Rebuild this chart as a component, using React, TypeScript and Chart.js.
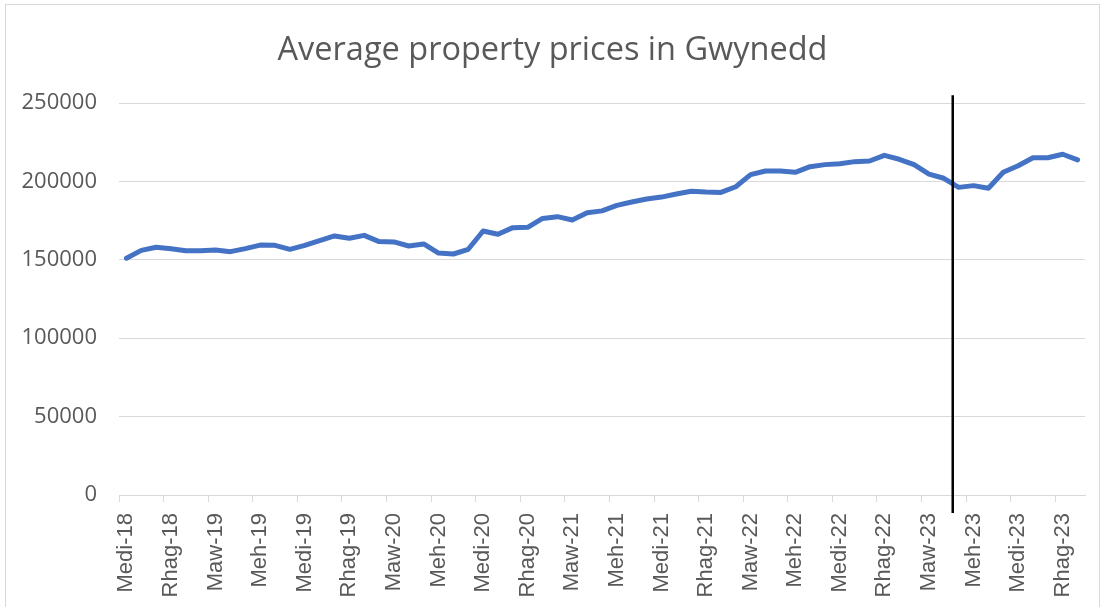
import React, { useEffect, useRef } from 'react';
import { Chart, registerables } from 'chart.js';

Chart.register(...registerables);

const TITLE = 'Average property prices in Gwynedd';

const MONTHS: string[] = [
  'Medi-18', 'Hyd-18', 'Tach-18', 'Rhag-18',
  'Ion-19', 'Chwef-19', 'Maw-19', 'Ebr-19', 'Mai-19', 'Meh-19', 'Gorff-19', 'Awst-19', 'Medi-19', 'Hyd-19', 'Tach-19', 'Rhag-19',
  'Ion-20', 'Chwef-20', 'Maw-20', 'Ebr-20', 'Mai-20', 'Meh-20', 'Gorff-20', 'Awst-20', 'Medi-20', 'Hyd-20', 'Tach-20', 'Rhag-20',
  'Ion-21', 'Chwef-21', 'Maw-21', 'Ebr-21', 'Mai-21', 'Meh-21', 'Gorff-21', 'Awst-21', 'Medi-21', 'Hyd-21', 'Tach-21', 'Rhag-21',
  'Ion-22', 'Chwef-22', 'Maw-22', 'Ebr-22', 'Mai-22', 'Meh-22', 'Gorff-22', 'Awst-22', 'Medi-22', 'Hyd-22', 'Tach-22', 'Rhag-22',
  'Ion-23', 'Chwef-23', 'Maw-23', 'Ebr-23', 'Mai-23', 'Meh-23', 'Gorff-23', 'Awst-23', 'Medi-23', 'Hyd-23', 'Tach-23', 'Rhag-23',
  'Ion-24',
];

const PRICES: number[] = [
  151000, 156000, 158000, 157000, 155800, 155800, 156200, 155200, 157100, 159400,
  159200, 156700, 159200, 162200, 165200, 163700, 165600, 161600, 161400, 158800,
  160100, 154300, 153700, 156700, 168400, 166300, 170500, 170700, 176400, 177500,
  175400, 180000, 181200, 184700, 186900, 188800, 190000, 192000, 193700, 193200,
  193000, 196600, 204300, 206600, 206600, 205800, 209400, 210700, 211200, 212600,
  213000, 216600, 214100, 210700, 204700, 202000, 196200, 197300, 195600, 205800,
  210000, 215100, 215100, 217300, 213700,
];

const Y_MIN = 0;
const Y_MAX = 250000;
const Y_STEP = 50000;

// vertical marker (category position and vertical extent in data units)
const MARKER_INDEX = 55.6;
const MARKER_TOP = 255000;
const MARKER_BOTTOM = -11500;

const markerPlugin = {
  id: 'marker',
  afterDatasetsDraw(chart: any) {
    const x = chart.scales.x.getPixelForValue(MARKER_INDEX);
    const y1 = chart.scales.y.getPixelForValue(MARKER_TOP);
    const y2 = chart.scales.y.getPixelForValue(MARKER_BOTTOM);
    const ctx = chart.ctx;
    ctx.save();
    ctx.strokeStyle = '#000000';
    ctx.lineWidth = 2.5;
    ctx.beginPath();
    ctx.moveTo(x, y1);
    ctx.lineTo(x, y2);
    ctx.stroke();
    ctx.restore();
  },
};

export default function App() {
  const ref = useRef<HTMLCanvasElement | null>(null);

  useEffect(() => {
    if (!ref.current) return;
    const chart = new Chart(ref.current, {
      type: 'line',
      data: {
        labels: MONTHS,
        datasets: [
          {
            label: 'Average price',
            data: PRICES,
            borderColor: '#4472C4',
            backgroundColor: '#4472C4',
            borderWidth: 5,
            pointRadius: 0,
            pointHoverRadius: 0,
            tension: 0,
            borderCapStyle: 'round',
            borderJoinStyle: 'round',
          },
        ],
      },
      options: {
        responsive: false,
        animation: false,
        devicePixelRatio: 1,
        layout: { padding: { left: 20, right: 19, top: 0, bottom: 0 } },
        plugins: {
          legend: { display: false },
          tooltip: { enabled: false },
          title: {
            display: true,
            text: TITLE,
            color: '#595959',
            font: { family: '"Open Sans"', size: 32.5, weight: 'normal', lineHeight: 1.2 },
            padding: { top: 31, bottom: 33 },
          },
        },
        scales: {
          x: {
            type: 'category',
            offset: true,
            border: { display: true, color: '#d9d9d9', width: 1 },
            grid: {
              offset: true,
              drawOnChartArea: false,
              drawTicks: true,
              tickLength: 7,
              color: (ctx: any) => (ctx.index % 3 === 0 ? '#d9d9d9' : 'rgba(0,0,0,0)'),
            },
            ticks: {
              autoSkip: false,
              minRotation: 90,
              maxRotation: 90,
              padding: 11,
              color: '#595959',
              font: { family: '"Liberation Sans", Arial, sans-serif', size: 22 },
              callback: (_v: any, i: number) => (i % 3 === 0 ? MONTHS[i] : ''),
            },
            afterFit: (scale: any) => {
              scale.height = 112;
              scale.paddingLeft = 0;
              scale.paddingRight = 0;
            },
          },
          y: {
            min: Y_MIN,
            max: Y_MAX,
            border: { display: false },
            grid: { color: '#d9d9d9', lineWidth: 1, drawTicks: false },
            ticks: {
              stepSize: Y_STEP,
              padding: 22,
              color: '#595959',
              font: { family: '"Open Sans"', size: 22 },
              callback: (v: any) => String(v),
            },
            afterFit: (scale: any) => {
              scale.width = 99;
              scale.paddingTop = 0;
              scale.paddingBottom = 0;
            },
          },
        },
      },
      plugins: [markerPlugin],
    });
    return () => chart.destroy();
  }, []);

  return (
    <div style={{ position: 'absolute', left: 0, top: 0, width: 1104, height: 607, overflow: 'hidden', background: '#ffffff' }}>
      <canvas ref={ref} width={1104} height={607} style={{ position: 'absolute', left: 0, top: 0 }} />
      <div
        style={{
          position: 'absolute',
          left: 5,
          top: 4,
          width: 1093,
          height: 640,
          border: '1px solid #d9d9d9',
          pointerEvents: 'none',
        }}
      />
    </div>
  );
}
